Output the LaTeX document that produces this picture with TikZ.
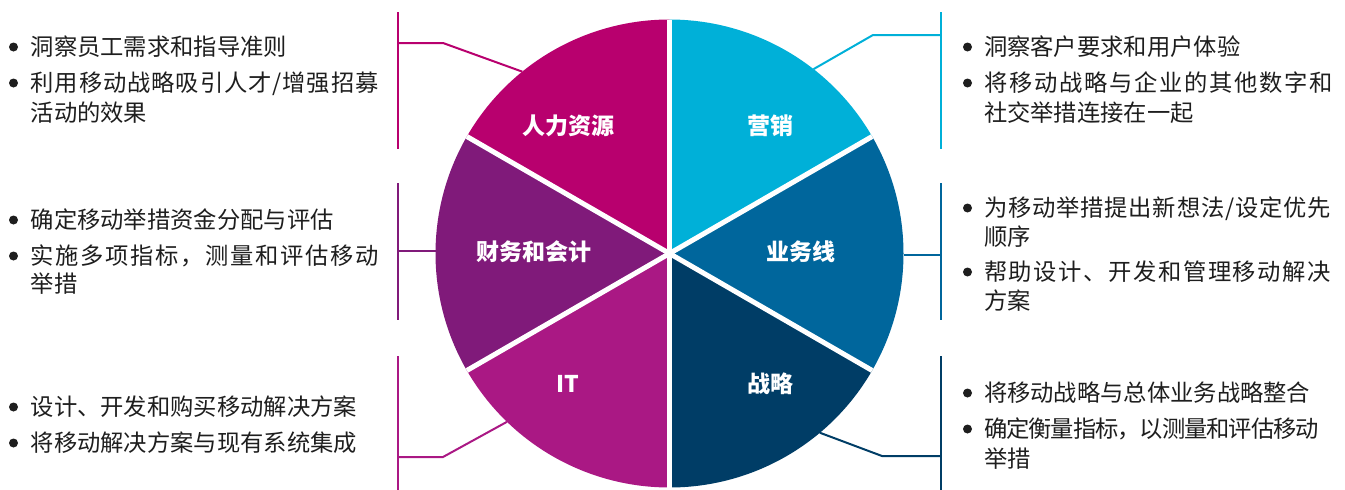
\documentclass[tikz,border=0pt]{standalone}
\usepackage{fontspec}
\setmainfont{Noto Sans CJK SC}
\definecolor{hrc}{RGB}{184,0,110}
\definecolor{mkc}{RGB}{0,176,216}
\definecolor{buc}{RGB}{0,102,156}
\definecolor{stc}{RGB}{0,61,102}
\definecolor{itc}{RGB}{170,24,132}
\definecolor{fic}{RGB}{128,26,122}
\definecolor{txtc}{RGB}{30,30,30}
\newcommand\glspread{\hskip 0pt plus 1fil minus 1fil\relax}
\newcommand\spreadto[2]{\hbox to #1pt{\spreadaux#2\relax\relax}}
\def\spreadaux#1#2{#1\ifx\relax#2\else\glspread\expandafter\spreadaux\expandafter#2\fi}
\begin{document}
\begin{tikzpicture}[x=1pt,y=-1pt,
  ln/.style={anchor=west, inner sep=0pt, outer sep=0pt, font=\fontsize{23.3}{28}\selectfont, text=txtc, text height=20.3pt, text depth=2.7pt},
  lbl/.style={inner sep=0pt, font=\bfseries\fontsize{23}{28}\selectfont, text=white, text height=20pt, text depth=2.6pt},
  dot/.style={circle, fill=txtc, inner sep=0pt, minimum size=9pt},
  lead/.style={line width=2pt},
  sepline/.style={white, line width=5pt}]
\useasboundingbox (0,0) rectangle (1345,490);
% pie
\coordinate (c) at (669.5,253.5);
\node[circle, minimum size=468pt, inner sep=0pt, outer sep=0pt] (pie) at (c) {};
\fill[hrc] (c) -- (pie.90) arc[start angle=90, end angle=150, radius=234pt] -- cycle;
\fill[fic] (c) -- (pie.150) arc[start angle=150, end angle=210, radius=234pt] -- cycle;
\fill[itc] (c) -- (pie.210) arc[start angle=210, end angle=270, radius=234pt] -- cycle;
\fill[stc] (c) -- (pie.270) arc[start angle=270, end angle=330, radius=234pt] -- cycle;
\fill[buc] (c) -- (pie.330) arc[start angle=330, end angle=390, radius=234pt] -- cycle;
\fill[mkc] (c) -- (pie.30) arc[start angle=30, end angle=90, radius=234pt] -- cycle;
\foreach \a in {90,30,-30,-90,-150,150} \draw[sepline] (c) -- (pie.\a);
% labels
\node[lbl] (lhr) at (568.3,126) {人力资源};
\node[lbl] (lmk) at (770,126) {营销};
\node[lbl] (lfi) at (534,251.7) {财务和会计};
\node[lbl] (lbu) at (800.8,252) {业务线};
\node[lbl] (lit) at (568,383.3) {IT};
\node[lbl] (lst) at (770,384) {战略};
% leaders left
\coordinate (hrtop) at (398,12); \coordinate (hrbot) at (398,149);
\coordinate (hrj) at (398,43); \coordinate (hrk) at (443,43);
\draw[hrc, lead] (hrtop) -- (hrbot);
\draw[hrc, lead] (hrj) -- (hrk) -- (pie.129.5);
\coordinate (fitop) at (398,183); \coordinate (fibot) at (398,320);
\coordinate (fij) at (398,251);
\draw[fic, lead] (fitop) -- (fibot);
\draw[fic, lead] (fij) -- (fij -| pie.west);
\coordinate (ittop) at (398,356); \coordinate (itbot) at (398,490);
\coordinate (itj) at (398,457); \coordinate (itk) at (443,457);
\draw[itc, lead] (ittop) -- (itbot);
\draw[itc, lead] (itj) -- (itk) -- (pie.226.7);
% leaders right
\coordinate (mktop) at (941,12); \coordinate (mkbot) at (941,149);
\coordinate (mkj) at (941,35); \coordinate (mkk) at (873,35);
\draw[mkc, lead] (mktop) -- (mkbot);
\draw[mkc, lead] (mkj) -- (mkk) -- (pie.52.5);
\coordinate (butop) at (941,183); \coordinate (bubot) at (941,320);
\coordinate (buj) at (941,255);
\draw[buc, lead] (butop) -- (bubot);
\draw[buc, lead] (buj) -- (buj -| pie.east);
\coordinate (sttop) at (941,356); \coordinate (stbot) at (941,490);
\coordinate (stj) at (941,456); \coordinate (stk) at (882,456);
\draw[stc, lead] (sttop) -- (stbot);
\draw[stc, lead] (stj) -- (stk) -- (pie.310.4);
% left texts
\node[dot] (b1) at (13.5,47) {};
\node[ln] (t1) at (30.7,47) {洞察员工需求和指导准则};
\node[dot] (b2) at (13.5,83) {};
\node[ln] (t2) at (30.7,83) {\spreadto{348}{利用移动战略吸引人才/增强招募}};
\node[ln] (t3) at (30.7,112.5) {活动的效果};
\node[dot] (b3) at (13.5,220) {};
\node[ln] (t4) at (30.7,220) {确定移动举措资金分配与评估};
\node[dot] (b4) at (13.5,256) {};
\node[ln] (t5) at (30.7,256) {\spreadto{348}{实施多项指标，测量和评估移动}};
\node[ln] (t6) at (30.7,284) {举措};
\node[dot] (b5) at (13.5,407) {};
\node[ln] (t7) at (30.7,407) {设计、开发和购买移动解决方案};
\node[dot] (b6) at (13.5,443) {};
\node[ln] (t8) at (30.7,443) {将移动解决方案与现有系统集成};
% right texts
\node[dot] (b7) at (967.5,47) {};
\node[ln] (r1) at (984,47) {洞察客户要求和用户体验};
\node[dot] (b8) at (967.5,83) {};
\node[ln] (r2) at (984,83) {\spreadto{349}{将移动战略与企业的其他数字和}};
\node[ln] (r3) at (984,112.5) {社交举措连接在一起};
\node[dot] (b9) at (967.5,208) {};
\node[ln] (r4) at (984,208) {\spreadto{347}{为移动举措提出新想法/设定优先}};
\node[ln] (r5) at (984,237) {顺序};
\node[dot] (b10) at (967.5,272) {};
\node[ln] (r6) at (984,272) {\spreadto{347}{帮助设计、开发和管理移动解决}};
\node[ln] (r7) at (984,301) {方案};
\node[dot] (b11) at (967.5,393) {};
\node[ln] (r8) at (984,393) {将移动战略与总体业务战略整合};
\node[dot] (b12) at (967.5,429) {};
\node[ln] (r9) at (984,429) {\spreadto{335}{确定衡量指标，以测量和评估移动}};
\node[ln] (r10) at (984,459) {举措};
\end{tikzpicture}
\end{document}
